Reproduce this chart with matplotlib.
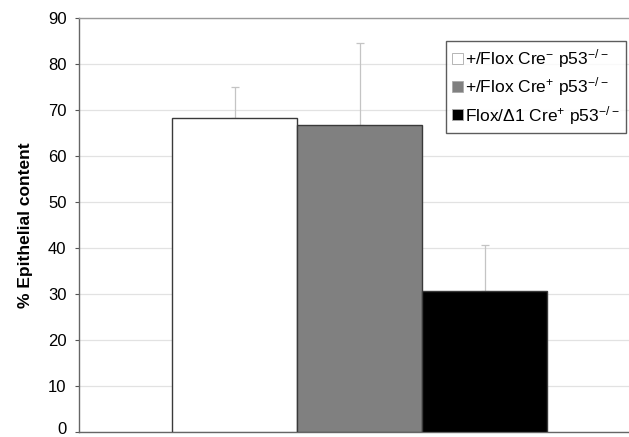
import numpy as np
import matplotlib.pyplot as plt
import matplotlib.transforms as mtransforms

plt.rcParams['font.family'] = ['Liberation Sans', 'DejaVu Sans']
plt.rcParams['mathtext.default'] = 'regular'

# グループ（遺伝子型）ごとの上皮含有率と誤差
groups = ['+/Flox Cre$^{-}$ p53$^{-/-}$',
          '+/Flox Cre$^{+}$ p53$^{-/-}$',
          'Flox/\u03941 Cre$^{+}$ p53$^{-/-}$']
means = [68.2, 66.7, 30.6]
errors = [6.8, 17.9, 10.1]
colors = ['white', '#808080', 'black']
yticks = [0, 10, 20, 30, 40, 50, 60, 70, 80, 90]

fig = plt.figure(figsize=(6.29, 4.37), dpi=100)
ax = fig.add_axes([0.1256, 0.0114, 0.8744, 0.9474])

x = np.arange(len(means))
for i in range(len(means)):
    ax.errorbar(x[i], means[i], yerr=[[0], [errors[i]]], fmt='none',
                ecolor='#c4c4c4', elinewidth=0.9, capsize=3, capthick=0.9, zorder=2)
    ax.bar(x[i], means[i], width=1.0, color=colors[i], edgecolor='#3a3a3a',
           linewidth=1.0, label=groups[i], zorder=3)

# 軸の設定
ax.set_ylim(0, 90)
ax.set_xlim(-1.244, 3.156)
ax.set_yticks(yticks)
ax.set_xticks([])
ax.tick_params(axis='y', labelsize=12, length=3, color='#555555', pad=6)
ax.grid(axis='y', color='#e2e2e2', linewidth=0.9, zorder=0)
ax.set_axisbelow(True)
for side in ['left', 'bottom', 'top']:
    ax.spines[side].set_color('#666666')
    ax.spines[side].set_linewidth(1.0)
ax.spines['top'].set_color('#999999')
ax.spines['right'].set_visible(False)
ax.set_ylabel('% Epithelial content', fontsize=12.5, fontweight='bold', labelpad=11)

# 0 のラベルが下端で切れないよう少し持ち上げる
fig.canvas.draw()
lbl0 = ax.get_yticklabels()[0]
lbl0.set_transform(lbl0.get_transform() + mtransforms.ScaledTranslation(0, 4 / 100, fig.dpi_scale_trans))

leg = ax.legend(loc='upper right', bbox_to_anchor=(0.995, 0.945), fontsize=12.5,
                frameon=True, fancybox=False, edgecolor='#333333',
                handlelength=0.6, handleheight=0.6, handletextpad=0.15,
                borderpad=0.35, labelspacing=0.32, borderaxespad=0)
leg.get_frame().set_linewidth(1.0)
for h in leg.legend_handles:
    h.set_edgecolor('#aaaaaa')
    h.set_linewidth(0.6)

plt.savefig('out.png', dpi=100)
